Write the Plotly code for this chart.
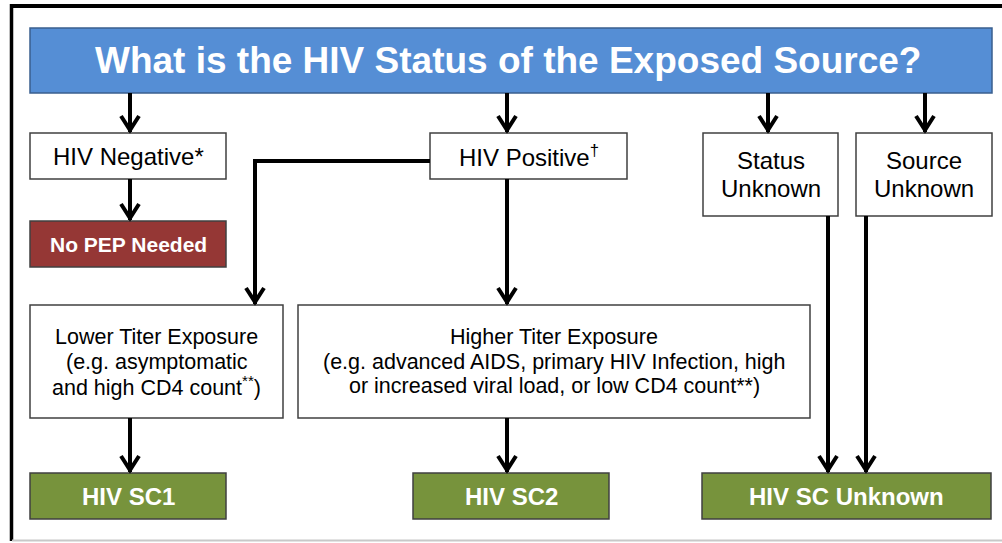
import plotly.graph_objects as go

# ---------------- content ----------------
header_label = "What is the HIV Status of the Exposed Source?"
status_labels = ["HIV Negative*", "HIV Positive<sup>†</sup>", ["Status", "Unknown"], ["Source", "Unknown"]]
no_pep_label = "No PEP Needed"
lower_lines = ["Lower Titer Exposure", "(e.g. asymptomatic", "and high CD4 count<sup>**</sup>)"]
higher_lines = ["Higher Titer Exposure",
                "(e.g. advanced AIDS, primary HIV Infection, high",
                "or increased viral load, or low CD4 count**)"]
outcome_labels = ["HIV SC1", "HIV SC2", "HIV SC Unknown"]

# ---------------- geometry (pixel layout) ----------------
W, H = 1002, 543
FONT = "Liberation Sans, Arial, sans-serif"
BLUE, RED, GREEN = "#558ED5", "#953735", "#77933C"
EDGE = "#404040"

boxes = {
    "header": (30, 28, 992, 93),
    "neg": (30, 133, 226, 179),
    "pos": (430, 133, 627, 179),
    "stat": (703, 133, 838, 216),
    "src": (856, 133, 992, 216),
    "nopep": (30, 221, 226, 267),
    "lower": (30, 305, 283, 418),
    "higher": (298, 305, 810, 418),
    "sc1": (30, 473, 226, 519),
    "sc2": (413, 473, 609, 519),
    "scu": (702, 473, 991, 519),
}

arrows = [
    [(130, 93), (130, 132)],
    [(507, 93), (507, 132)],
    [(768, 93), (768, 132)],
    [(925, 93), (925, 132)],
    [(130, 179), (130, 220)],
    [(430, 161), (255, 161), (255, 304)],
    [(507, 179), (507, 304)],
    [(130, 418), (130, 472)],
    [(507, 418), (507, 472)],
    [(828, 216), (828, 472)],
    [(866, 216), (866, 472)],
]

fig = go.Figure()
fig.add_trace(go.Scatter(x=[0, W], y=[0, H], mode="markers",
                         marker=dict(opacity=0), hoverinfo="skip", showlegend=False))

# frame
fig.add_shape(type="line", x0=10, x1=W, y0=6, y1=6, line=dict(color="black", width=4))
fig.add_shape(type="line", x0=11.5, x1=11.5, y0=4, y1=541, line=dict(color="black", width=3.5))
fig.add_shape(type="line", x0=12, x1=W, y0=540.5, y1=540.5, line=dict(color="#c8c8c8", width=2))

fills = {"header": BLUE, "nopep": RED, "sc1": GREEN, "sc2": GREEN, "scu": GREEN}
for k, (x0, y0, x1, y1) in boxes.items():
    fig.add_shape(type="rect", x0=x0, x1=x1, y0=y0, y1=y1,
                  fillcolor=fills.get(k, "white"),
                  line=dict(color="#3a5f8f" if k == "header" else EDGE, width=1.5))

# arrows
for pts in arrows:
    path = "M " + " L ".join(f"{x},{y}" for x, y in pts)
    fig.add_shape(type="path", path=path, line=dict(color="black", width=4))
    (xa, ya), (xb, yb) = pts[-2], pts[-1]
    tip = yb - 2
    head = f"M {xb-9},{tip-14} L {xb},{tip} L {xb+9},{tip-14}"
    fig.add_shape(type="path", path=head, line=dict(color="black", width=4))


def center(k):
    x0, y0, x1, y1 = boxes[k]
    return (x0 + x1) / 2, (y0 + y1) / 2


def txt(x, y, s, size, color="black", bold=False):
    fig.add_annotation(x=x, y=y, text=f"<b>{s}</b>" if bold else s, showarrow=False,
                       xanchor="center", yanchor="middle",
                       font=dict(family=FONT, size=size, color=color))


txt(508, 60, header_label, 37, "white", True)

for k, lab in zip(["neg", "pos", "stat", "src"], status_labels):
    cx, cy = center(k)
    if isinstance(lab, list):
        txt(cx, cy - 14, lab[0], 24)
        txt(cx, cy + 14, lab[1], 24)
    else:
        txt(cx, cy, lab, 24)

cx, cy = center("nopep")
txt(cx, cy, no_pep_label, 21, "white", True)

for k, lines in (("lower", lower_lines), ("higher", higher_lines)):
    cx, cy = center(k)
    for i, ln in enumerate(lines):
        txt(cx, 337 + i * 24.5, ln, 21.5)

for k, lab in zip(["sc1", "sc2", "scu"], outcome_labels):
    cx, cy = center(k)
    txt(cx, cy, lab, 24, "white", True)

fig.update_layout(width=W, height=H, margin=dict(l=0, r=0, t=0, b=0),
                  paper_bgcolor="white", plot_bgcolor="white", showlegend=False,
                  xaxis=dict(range=[0, W], visible=False, fixedrange=True),
                  yaxis=dict(range=[H, 0], visible=False, fixedrange=True))
fig.write_html("out.html", config={"displayModeBar": False},
               post_script="document.body.style.margin='0';document.body.style.overflow='hidden';")
